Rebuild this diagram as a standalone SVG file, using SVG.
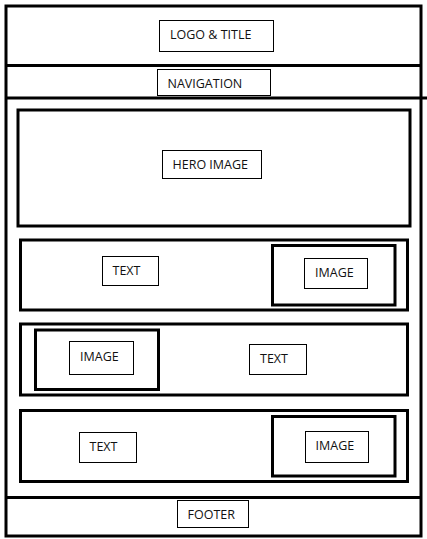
<svg xmlns="http://www.w3.org/2000/svg" width="427" height="539" viewBox="0 0 427 539">
<style>
.thick{fill:none;stroke:#000;stroke-width:3}
.thin{fill:#fff;stroke:#000;stroke-width:1}
.lbl{font-family:"Open Sans","Noto Sans","Liberation Sans",sans-serif;font-size:12.5px;fill:#111}
</style>
<rect width="427" height="539" fill="#fff"/>
<g id="page">
<rect class="thick" x="6" y="6" width="415" height="530"/>
<line class="thick" x1="6" y1="65.5" x2="421" y2="65.5"/>
<line class="thick" x1="6" y1="98" x2="427" y2="98"/>
<line class="thick" x1="6" y1="497.5" x2="421" y2="497.5"/>
</g>
<g id="logo-title">
<rect class="thin" x="159.5" y="20.5" width="114" height="31"/>
<text class="lbl" x="170" y="39">LOGO &amp; TITLE</text>
</g>
<g id="navigation">
<rect class="thin" x="157.5" y="69.5" width="113" height="26"/>
<text class="lbl" x="167.5" y="88">NAVIGATION</text>
</g>
<g id="hero">
<rect class="thick" x="18" y="110" width="392" height="116"/>
<rect class="thin" x="162.5" y="150.5" width="99" height="28"/>
<text class="lbl" x="172.5" y="169">HERO IMAGE</text>
</g>
<g id="row1">
<rect class="thick" x="20.5" y="240" width="387" height="70"/>
<rect class="thin" x="102.5" y="256.5" width="56" height="29"/>
<text class="lbl" x="112.5" y="275">TEXT</text>
<rect class="thick" x="272.5" y="245.5" width="122.5" height="59.5"/>
<rect class="thin" x="304.5" y="258.5" width="63" height="30"/>
<text class="lbl" x="315" y="277">IMAGE</text>
</g>
<g id="row2">
<rect class="thick" x="20.5" y="324" width="387" height="71"/>
<rect class="thick" x="35.5" y="330" width="123" height="59.5"/>
<rect class="thin" x="69.5" y="341.5" width="64" height="33"/>
<text class="lbl" x="80" y="361">IMAGE</text>
<rect class="thin" x="249.5" y="344.5" width="57" height="30"/>
<text class="lbl" x="260" y="363">TEXT</text>
</g>
<g id="row3">
<rect class="thick" x="20.5" y="410.5" width="387" height="71"/>
<rect class="thin" x="79.5" y="432.5" width="57" height="30"/>
<text class="lbl" x="89.5" y="451">TEXT</text>
<rect class="thick" x="272.5" y="416.5" width="122.5" height="59.5"/>
<rect class="thin" x="305.5" y="431.5" width="63" height="31"/>
<text class="lbl" x="315.5" y="450">IMAGE</text>
</g>
<g id="footer">
<rect class="thin" x="177.5" y="500.5" width="71" height="27"/>
<text class="lbl" x="187.5" y="519">FOOTER</text>
</g>
<g id="connectors"/>
</svg>
